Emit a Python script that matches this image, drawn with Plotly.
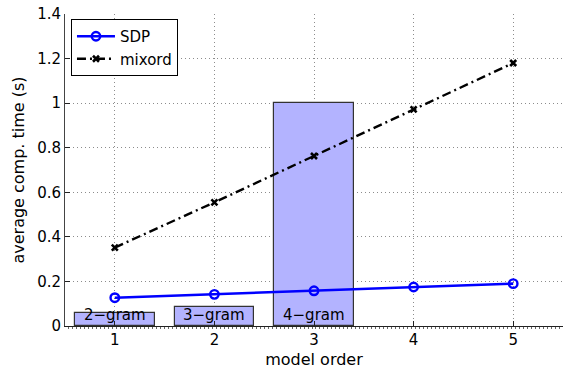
import plotly.graph_objects as go

# model orders on the x axis
orders = [1, 2, 3, 4, 5]

# average computation time per model order (seconds)
sdp_time = [0.127, 0.142, 0.158, 0.175, 0.19]
mixord_time = [0.352, 0.555, 0.763, 0.972, 1.18]

# n-gram reference bars
gram_x = [1, 2, 3]
gram_time = [0.058, 0.084, 1.0]
gram_labels = ["2\u2212gram", "3\u2212gram", "4\u2212gram"]

y_ticks = [0, 0.2, 0.4, 0.6, 0.8, 1.0, 1.2, 1.4]
y_tick_text = ["0", "0.2", "0.4", "0.6", "0.8", "1", "1.2", "1.4"]

FONT = "DejaVu Sans"

fig = go.Figure()

fig.add_trace(go.Bar(
    x=gram_x, y=gram_time, width=0.8,
    marker=dict(color="#b3b3ff", line=dict(color="#333333", width=1.2)),
    showlegend=False, hoverinfo="skip",
))

fig.add_trace(go.Scatter(
    x=orders, y=sdp_time, mode="lines+markers", name="SDP",
    line=dict(color="#0000ff", width=2.6),
    marker=dict(symbol="circle-open", size=8.5, color="#0000ff",
                line=dict(width=2.4, color="#0000ff")),
))

fig.add_trace(go.Scatter(
    x=orders, y=mixord_time, mode="lines+markers", name="mixord",
    line=dict(color="#000000", width=2.4, dash="9px,4px,2px,4px"),
    marker=dict(symbol="x-thin-open", size=6, color="#000000",
                line=dict(width=2.6, color="#000000")),
))

# n-gram names written near the bottom of each bar
label_y = 0.05
for gx, name in zip(gram_x, gram_labels):
    fig.add_annotation(
        x=gx, y=label_y, text=name, showarrow=False,
        font=dict(family=FONT, size=15, color="#000000"),
        xanchor="center", yanchor="middle",
    )

fig.update_layout(
    width=565, height=371,
    margin=dict(l=65, r=2, t=14, b=45),
    paper_bgcolor="white", plot_bgcolor="white",
    font=dict(family=FONT, size=15, color="#000000"),
    bargap=0,
    legend=dict(
        x=0.012, y=0.984, xanchor="left", yanchor="top",
        bgcolor="white", bordercolor="#000000", borderwidth=1,
        font=dict(family=FONT, size=15, color="#000000"),
        itemwidth=38, tracegroupgap=0,
    ),
)

GRID_DASH = "1px,3px"

fig.update_xaxes(
    range=[0.5, 5.5], tickvals=orders, ticktext=[str(o) for o in orders],
    ticks="inside", ticklen=5, tickcolor="#222222",
    showline=True, linecolor="#222222", linewidth=1,
    showgrid=True, gridcolor="#8c8c8c", griddash=GRID_DASH, gridwidth=1,
    zeroline=False,
    minor=dict(ticks="outside", ticklen=2, dtick=0.04, tick0=0.5,
               tickcolor="#666666", showgrid=False),
    title=dict(text="model order", font=dict(family=FONT, size=16), standoff=5),
)

fig.update_yaxes(
    range=[0, 1.4], tickvals=y_ticks, ticktext=y_tick_text,
    ticks="inside", ticklen=5, tickcolor="#222222",
    showline=True, linecolor="#444444", linewidth=1,
    showgrid=True, gridcolor="#8c8c8c", griddash=GRID_DASH, gridwidth=1,
    zeroline=False,
    title=dict(text="average comp. time (s)", font=dict(family=FONT, size=16), standoff=8),
)

fig.write_html("out.html")
